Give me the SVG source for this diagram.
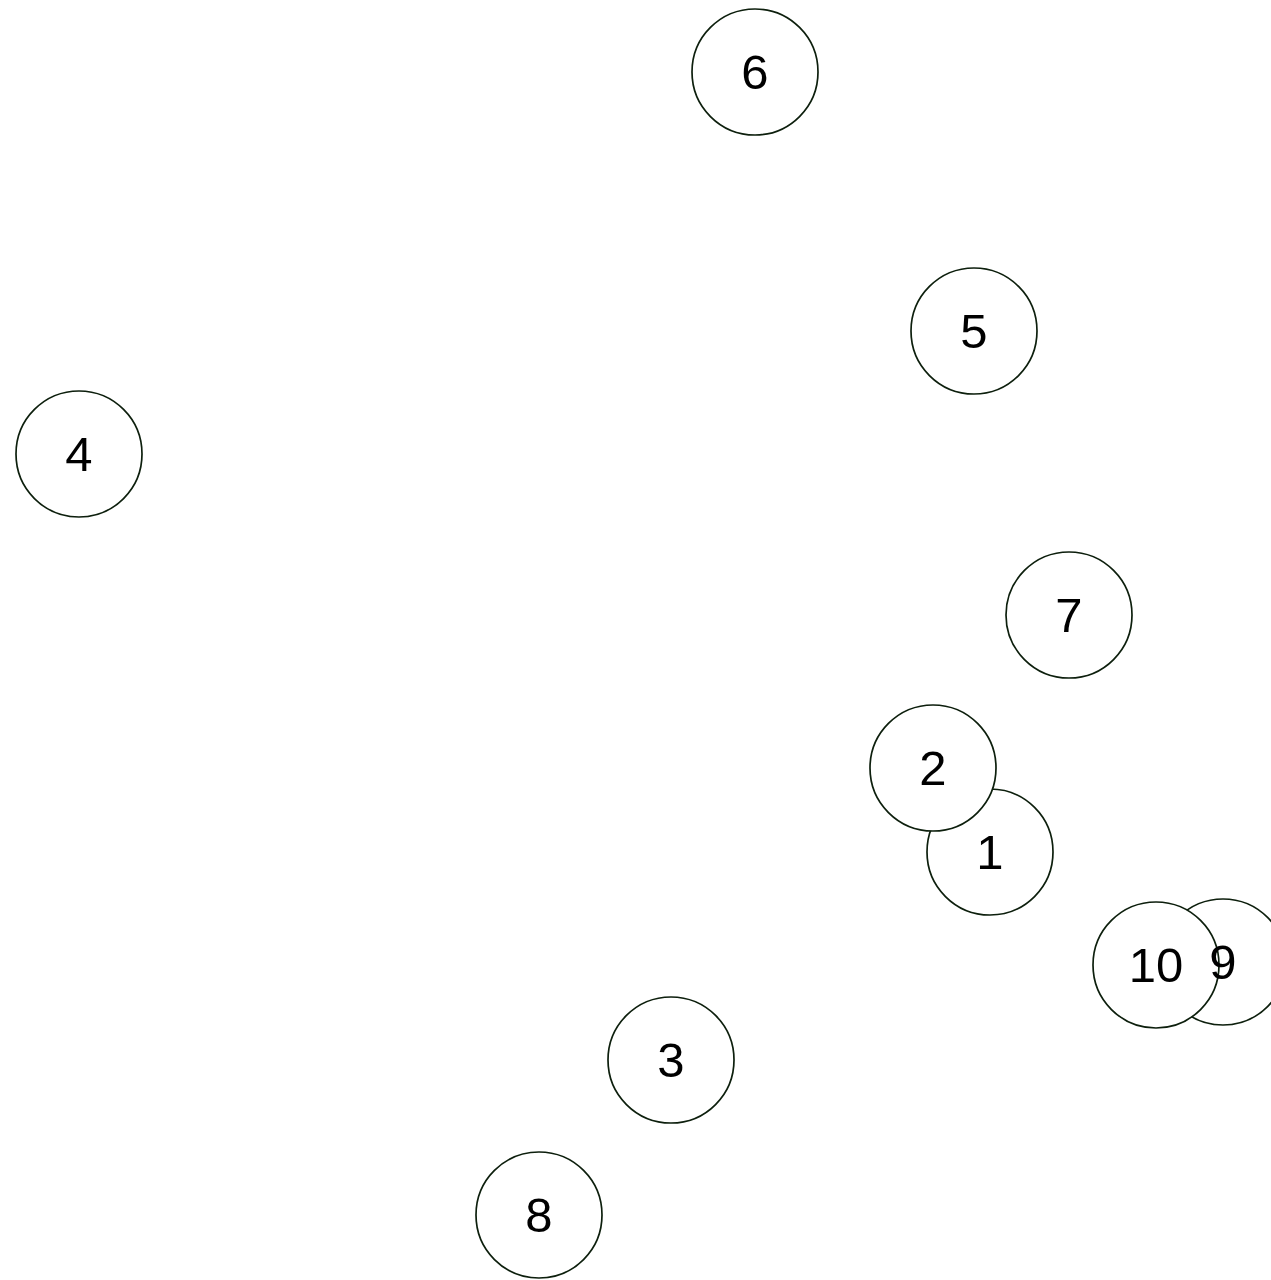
<svg xmlns="http://www.w3.org/2000/svg" width="1271" height="1280" viewBox="0 0 1271 1280">
<style>
.n{fill:#fff;stroke:#0d1f0d;stroke-width:1.7}
.l{font-family:"Liberation Sans",Arial,sans-serif;font-size:49px;fill:#000;text-anchor:middle}
</style>
<rect width="1271" height="1280" fill="#fff"/>
<g id="connectors"></g>
<g id="nodes">
<g id="node1"><circle class="n" cx="990" cy="852" r="63"/></g>
<g id="node2"><circle class="n" cx="933" cy="768" r="63"/></g>
<g id="node3"><circle class="n" cx="671" cy="1060" r="63"/></g>
<g id="node4"><circle class="n" cx="79" cy="454" r="63"/></g>
<g id="node5"><circle class="n" cx="974" cy="331" r="63"/></g>
<g id="node6"><circle class="n" cx="755" cy="72" r="63"/></g>
<g id="node7"><circle class="n" cx="1069" cy="615" r="63"/></g>
<g id="node8"><circle class="n" cx="539" cy="1215" r="63"/></g>
<g id="node9"><circle class="n" cx="1223" cy="962" r="63"/></g>
<g id="node10"><circle class="n" cx="1156" cy="965" r="63"/></g>
</g>
<g id="labels">
<text class="l" x="990" y="869">1</text>
<text class="l" x="933" y="785">2</text>
<text class="l" x="671" y="1077">3</text>
<text class="l" x="79" y="471">4</text>
<text class="l" x="974" y="348">5</text>
<text class="l" x="755" y="89">6</text>
<text class="l" x="1069" y="632">7</text>
<text class="l" x="539" y="1232">8</text>
<text class="l" x="1223" y="979">9</text>
<text class="l" x="1156" y="982">10</text>
</g>
</svg>
